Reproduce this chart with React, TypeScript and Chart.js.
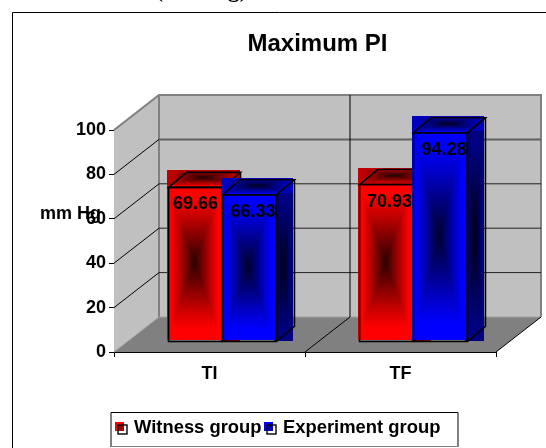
import React, { useEffect, useRef } from "react";
import { Chart, registerables } from "chart.js";

Chart.register(...registerables);

const categories = ["TI", "TF"];
const witnessValues = [69.66, 70.93];
const experimentValues = [66.33, 94.28];
const yTicks = [0, 20, 40, 60, 80, 100];
const titleText = "Maximum PI";
const axisLabel = "mm Hg";
const clippedHeading = "(mm Hg)";
const seriesNames = ["Witness group", "Experiment group"];

const SANS = "'Liberation Sans', Arial, sans-serif";
const WALL = { dx: 45, dy: -35 };
const BAR = { dx: 13, dy: -10, depthX: 18, depthY: -15 };
const RGB: number[][] = [[1, 0, 0], [0, 0, 1]];

function shade(t: number): number {
  if (t < 0.6) return 0.17 + ((0.78 - 0.17) * t) / 0.6;
  if (t < 0.85) return 0.78 + ((1 - 0.78) * (t - 0.6)) / 0.25;
  return 1;
}

function pathGradient(ctx: CanvasRenderingContext2D, x0: number, y0: number, x1: number, y1: number, rgb: number[], peak: number) {
  const X = Math.round(x0), Y = Math.round(y0);
  const w = Math.max(1, Math.round(x1) - X), h = Math.max(1, Math.round(y1) - Y);
  const img = ctx.createImageData(w, h);
  for (let j = 0; j < h; j++) {
    for (let i = 0; i < w; i++) {
      const t = Math.max(Math.abs(i + 0.5 - w / 2) / (w / 2), Math.abs(j + 0.5 - h / 2) / (h / 2));
      const v = shade(t) * peak;
      const k = (j * w + i) * 4;
      img.data[k] = rgb[0] * v;
      img.data[k + 1] = rgb[1] * v;
      img.data[k + 2] = rgb[2] * v;
      img.data[k + 3] = 255;
    }
  }
  ctx.putImageData(img, X, Y);
}

function poly(ctx: CanvasRenderingContext2D, pts: number[][], fill?: string, stroke?: string, lw = 1, close = true) {
  ctx.beginPath();
  pts.forEach((p, i) => (i ? ctx.lineTo(p[0], p[1]) : ctx.moveTo(p[0], p[1])));
  if (close) ctx.closePath();
  if (fill) { ctx.fillStyle = fill; ctx.fill(); }
  if (stroke) { ctx.strokeStyle = stroke; ctx.lineWidth = lw; ctx.stroke(); }
}

const scenePlugin = {
  id: "scene3d",
  afterLayout(chart: any) {
    chart.titleBlock.left = 89;
    chart.titleBlock.right = 546;
  },
  beforeDraw(chart: any) {
    const ctx: CanvasRenderingContext2D = chart.ctx;
    ctx.save();
    ctx.fillStyle = "#fff";
    ctx.fillRect(0, 0, chart.width, chart.height);
    ctx.fillStyle = "#000";
    ctx.font = "bold 24px 'Liberation Serif', serif";
    ctx.textAlign = "left";
    ctx.textBaseline = "alphabetic";
    ctx.fillText(clippedHeading, 155, -3);
    poly(ctx, [[12.5, 450], [12.5, 12.5], [550, 12.5]], undefined, "#000", 1, false);
    ctx.restore();
  },
  beforeDatasetsDraw(chart: any) {
    const ctx: CanvasRenderingContext2D = chart.ctx;
    const { x: xs, y: ys } = chart.scales;
    const L = xs.left, R = xs.right, B = ys.bottom, T = ys.top;
    const { dx, dy } = WALL;
    ctx.save();
    poly(ctx, [[L + dx, T + dy], [R + dx, T + dy], [R + dx, B + dy], [L + dx, B + dy]], "#c0c0c0");
    poly(ctx, [[L, T], [L + dx, T + dy], [L + dx, B + dy], [L, B]], "#c0c0c0");
    poly(ctx, [[L, B], [L + dx, B + dy], [R + dx, B + dy], [R, B]], "#808080");
    poly(ctx, [[L, T], [L + dx, T + dy], [R + dx, T + dy], [R + dx, B + dy]], undefined, "#808080", 2, false);
    poly(ctx, [[L + dx, T + dy], [L + dx, B + dy]], undefined, "#808080", 2, false);
    poly(ctx, [[L + dx, B + dy], [R + dx, B + dy]], undefined, "#a0a0a0", 1, false);
    poly(ctx, [[L, B], [L + dx, B + dy]], undefined, "#a0a0a0", 1, false);
    for (const v of yTicks) {
      if (v === 0 || v === 100) continue;
      const y = ys.getPixelForValue(v);
      poly(ctx, [[L, y], [L + dx, y + dy]], undefined, "#000", 1, false);
      poly(ctx, [[L + dx, y + dy], [R + dx, y + dy]], undefined, v === 80 ? "#606060" : "#202020", v === 80 ? 2 : 1, false);
    }
    const n = categories.length;
    for (let i = 1; i < n; i++) {
      const x = L + ((R - L) * i) / n;
      poly(ctx, [[x + dx, T + dy], [x + dx, B + dy]], undefined, "#000", 1, false);
      poly(ctx, [[x, B], [x + dx, B + dy]], undefined, "#000", 1, false);
    }
    poly(ctx, [[R, B], [R + dx, B + dy]], undefined, "#000", 1, false);
    ctx.restore();
  },
  afterDatasetsDraw(chart: any) {
    const ctx: CanvasRenderingContext2D = chart.ctx;
    const { dx, dy, depthX, depthY } = BAR;
    ctx.save();
    chart.data.datasets.forEach((ds: any, di: number) => {
      const rgb = RGB[di];
      chart.getDatasetMeta(di).data.forEach((el: any) => {
        const half = el.width / 2;
        const x0 = el.x - half + dx, x1 = el.x + half + dx;
        const top = el.y + dy, base = el.base + dy;
        pathGradient(ctx, x0 - 2, top - 2 + depthY, x1 + depthX - 1, top - 2, rgb, 190);
        pathGradient(ctx, x1 - 2, top - 2, x1 + depthX - 1, base - 1, rgb, 128);
        pathGradient(ctx, x0 - 2, top - 2, x1 - 1, base - 2, rgb, 255);
        ctx.lineJoin = "miter";
        poly(ctx, [[x0, top], [x1, top], [x1, base], [x0, base]], undefined, "#000", 1.6);
        poly(ctx, [[x0, top], [x0 + depthX, top + depthY], [x1 + depthX, top + depthY], [x1, top]], undefined, "#000", 1.6);
        poly(ctx, [[x1 + depthX, top + depthY], [x1 + depthX, base + depthY], [x1, base]], undefined, "#000", 1.6, false);
      });
    });
    ctx.fillStyle = "#000";
    ctx.font = `bold 18px ${SANS}`;
    ctx.textAlign = "center";
    ctx.textBaseline = "middle";
    chart.data.datasets.forEach((ds: any, di: number) => {
      chart.getDatasetMeta(di).data.forEach((el: any, i: number) => {
        const shift = di === 0 ? (i === 0 ? 0 : 3) : 3.5;
        ctx.fillText(ds.data[i].toFixed(2), el.x + dx + shift, el.y + dy + 17);
      });
    });
    ctx.restore();
  },
  afterDraw(chart: any) {
    const ctx: CanvasRenderingContext2D = chart.ctx;
    ctx.save();
    ctx.fillStyle = "#000";
    ctx.font = `bold 18px ${SANS}`;
    ctx.textAlign = "left";
    ctx.textBaseline = "middle";
    ctx.fillText(axisLabel, 40, 214);
    ctx.fillStyle = "#fff";
    ctx.fillRect(111, 412, 347, 35);
    poly(ctx, [[111, 447], [111, 412.5], [458, 412.5], [458, 447]], undefined, "#000", 1, false);
    poly(ctx, [[111, 446.5], [458, 446.5]], undefined, "#808080", 1, false);
    const items = [
      { mx: 115, tx: 134, peak: "#ff0000", dark: "#a80000" },
      { mx: 264, tx: 283, peak: "#0000ff", dark: "#0000a8" },
    ];
    items.forEach((it, i) => {
      ctx.fillStyle = it.peak;
      ctx.fillRect(it.mx, 422, 9, 9);
      ctx.fillStyle = it.dark;
      ctx.fillRect(it.mx + 3, 425, 6, 6);
      ctx.strokeStyle = "#000";
      ctx.lineWidth = 1.4;
      ctx.strokeRect(it.mx + 3, 425, 9, 9);
      ctx.fillStyle = "#000";
      ctx.font = `bold 18.4px ${SANS}`;
      ctx.fillText(seriesNames[i], it.tx, 428);
    });
    ctx.restore();
  },
};

export default function App() {
  const ref = useRef<HTMLCanvasElement>(null);
  useEffect(() => {
    const chart = new Chart(ref.current as HTMLCanvasElement, {
      type: "bar",
      data: {
        labels: categories,
        datasets: [
          { label: seriesNames[0], data: witnessValues, backgroundColor: "transparent", borderWidth: 0, barPercentage: 1, categoryPercentage: 0.565 },
          { label: seriesNames[1], data: experimentValues, backgroundColor: "transparent", borderWidth: 0, barPercentage: 1, categoryPercentage: 0.565 },
        ],
      },
      options: {
        responsive: false,
        animation: false,
        devicePixelRatio: 1,
        layout: { padding: { left: 0, right: 50, top: 29.6, bottom: 0 } },
        plugins: {
          legend: { display: false },
          tooltip: { enabled: false },
          title: {
            display: true,
            text: titleText,
            color: "#000",
            font: { family: SANS, size: 24, weight: "bold", lineHeight: 1.2 },
            padding: { top: 0, bottom: 71.6 },
          },
        },
        scales: {
          x: {
            afterFit: (s: any) => { s.height = 96; },
            grid: { drawOnChartArea: false, drawTicks: true, tickLength: 5, color: "#000" },
            border: { color: "#000", width: 1 },
            ticks: { color: "#000", padding: 6, maxRotation: 0, font: { family: SANS, size: 18, weight: "bold" } },
          },
          y: {
            min: 0,
            max: 100,
            afterFit: (s: any) => { s.width = 114; },
            afterBuildTicks: (s: any) => { s.ticks = yTicks.map((value) => ({ value })); },
            grid: { drawOnChartArea: false, drawTicks: true, tickLength: 5, color: "#000" },
            border: { color: "#000", width: 1 },
            ticks: { color: "#000", padding: 3, font: { family: SANS, size: 18, weight: "bold" } },
          },
        },
      },
      plugins: [scenePlugin],
    } as any);
    return () => chart.destroy();
  }, []);
  return (
    <div style={{ position: "fixed", left: 0, top: 0, width: 546, height: 448 }}>
      <canvas ref={ref} width={546} height={448} style={{ display: "block" }} />
    </div>
  );
}
